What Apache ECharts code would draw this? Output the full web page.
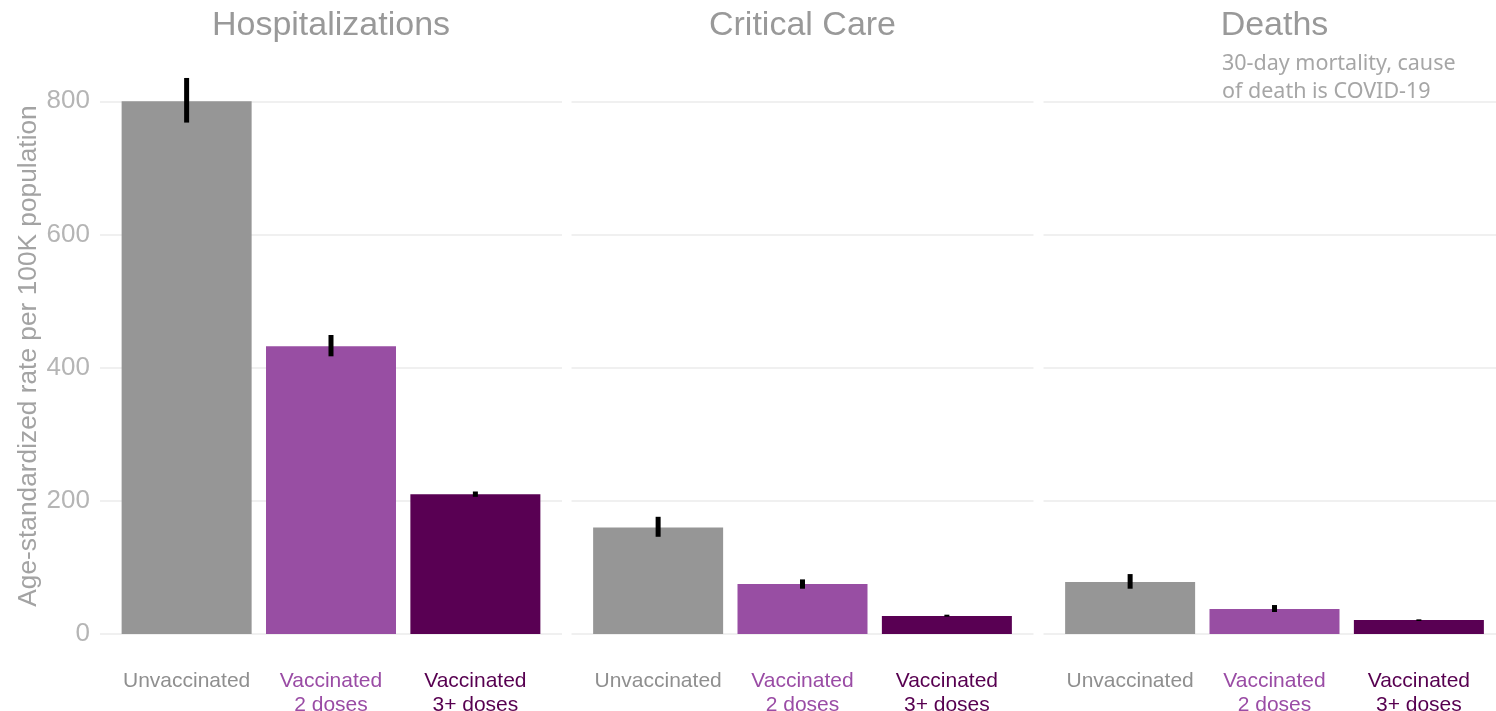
<!DOCTYPE html>
<html>
<head>
<meta charset="utf-8">
<script src="https://cdn.jsdelivr.net/npm/echarts@6/dist/echarts.min.js"></script>
<style>
  html, body { margin: 0; padding: 0; background: #fff; }
  #main { width: 1496px; height: 711px; }
</style>
</head>
<body>
<div id="main"></div>
<script>
// categories and facets
var groups = ['Unvaccinated', 'Vaccinated 2 doses', 'Vaccinated 3+ doses'];
var facets = ['Hospitalizations', 'Critical Care', 'Deaths'];

// age-standardized rate per 100K, with interval bounds
var hospRate = [800, 432, 210];
var hospLow = [768, 417, 206];
var hospHigh = [835, 449, 214];

var critRate = [160, 75, 27];
var critLow = [146, 68, 26];
var critHigh = [176, 82, 29];

var deathRate = [78, 37.5, 21];
var deathLow = [68, 33, 19.5];
var deathHigh = [90, 43.5, 22];

var yTicks = [0, 200, 400, 600, 800];

var barColors = ['#969696', '#984ea3', '#590053'];
var labelKeys = ['u', 'v2', 'v3'];

var rates = [hospRate, critRate, deathRate];
var lows = [hospLow, critLow, deathLow];
var highs = [hospHigh, critHigh, deathHigh];

var myChart = echarts.init(document.getElementById('main'));

var gridLefts = [100, 571.5, 1043.5];
var grids = [], xAxes = [], yAxes = [], series = [];

for (var f = 0; f < 3; f++) {
    grids.push({ left: gridLefts[f], width: 462, top: 48, bottom: 77, outerBoundsMode: 'none', containLabel: false });
    xAxes.push({
        type: 'value', gridIndex: f, min: -0.6, max: 2.6,
        axisLine: { show: false }, axisTick: { show: false }, splitLine: { show: false },
        axisLabel: {
            customValues: [0, 1, 2],
            margin: 35,
            formatter: function (v) {
                var i = Math.round(v);
                var k = labelKeys[i];
                var parts = groups[i].split(' ');
                if (i === 0) return '{' + k + '|' + groups[i] + '}';
                return '{' + k + '|' + parts[0] + '}\n{' + k + '|' + parts.slice(1).join(' ') + '}';
            },
            rich: {
                u: { color: '#8f8f8f', fontSize: 21, fontFamily: 'Liberation Sans', lineHeight: 24 },
                v2: { color: '#9a4ca5', fontSize: 21, fontFamily: 'Liberation Sans', lineHeight: 24 },
                v3: { color: '#570050', fontSize: 21, fontFamily: 'Liberation Sans', lineHeight: 24 }
            }
        }
    });
    yAxes.push({
        type: 'value', gridIndex: f, min: 0, max: 880, interval: 200,
        axisLine: { show: false }, axisTick: { show: false },
        axisLabel: {
            show: f === 0, showMaxLabel: false, margin: 10,
            color: '#b5b5b5', fontSize: 26, fontFamily: 'Liberation Sans'
        },
        splitLine: { show: true, showMaxLine: false, lineStyle: { color: '#ebebeb', width: 1.5 } }
    });

    var barData = [];
    var errData = [];
    for (var i = 0; i < groups.length; i++) {
        barData.push({ value: [i, rates[f][i]], itemStyle: { color: barColors[i] } });
        errData.push([i, lows[f][i], highs[f][i]]);
    }
    series.push({
        type: 'bar', xAxisIndex: f, yAxisIndex: f, z: 2,
        barWidth: 130, data: barData, silent: true
    });
    series.push({
        type: 'custom', xAxisIndex: f, yAxisIndex: f, silent: true, z: 5,
        data: errData,
        renderItem: function (params, api) {
            var lo = api.coord([api.value(0), api.value(1)]);
            var hi = api.coord([api.value(0), api.value(2)]);
            return {
                type: 'line',
                shape: { x1: lo[0], y1: lo[1], x2: hi[0], y2: hi[1] },
                style: { stroke: '#000', lineWidth: 5 }
            };
        }
    });
}

var graphics = [];
for (var f = 0; f < 3; f++) {
    graphics.push({
        type: 'text', x: gridLefts[f] + 231, y: 26,
        style: {
            text: facets[f], fill: '#999999', fontSize: 34, fontFamily: 'Liberation Sans',
            align: 'center', verticalAlign: 'middle'
        }
    });
}
graphics.push({
    type: 'text', x: 1222, y: 50,
    style: {
        text: '30-day mortality, cause\nof death is COVID-19', fill: '#a6a6a6',
        fontSize: 21.5, fontFamily: 'Noto Sans', lineHeight: 28,
        align: 'left', verticalAlign: 'top'
    }
});
// y axis title
graphics.push({
    type: 'text', x: 29, y: 356, rotation: Math.PI / 2,
    style: {
        text: 'Age-standardized rate per 100K population', fill: '#a3a3a3',
        fontSize: 26.3, fontFamily: 'Liberation Sans',
        align: 'center', verticalAlign: 'middle'
    }
});

var option = {
    animation: false,
    grid: grids,
    xAxis: xAxes,
    yAxis: yAxes,
    series: series,
    graphic: graphics
};
myChart.setOption(option);
</script>
</body>
</html>
